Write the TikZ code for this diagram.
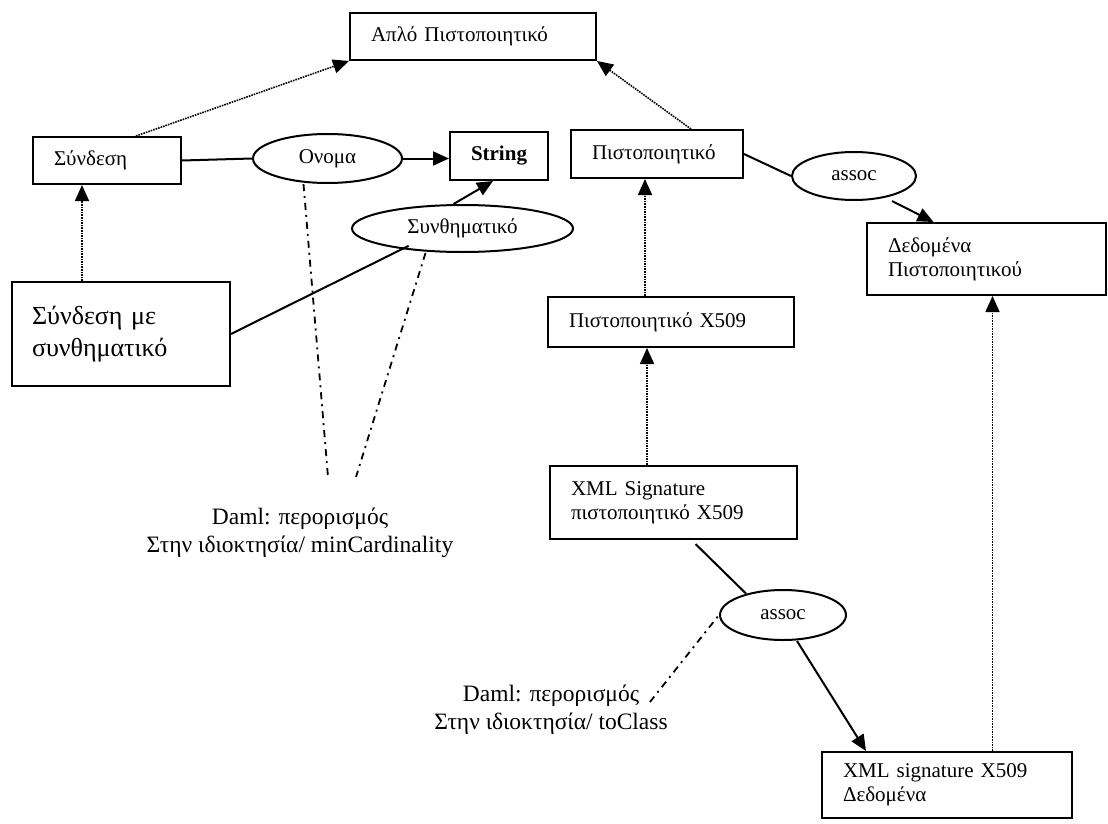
\documentclass[tikz,border=0pt]{standalone}
\usepackage{fontspec}
\setmainfont{Liberation Serif}
\usetikzlibrary{arrows.meta,shapes.geometric}
\begin{document}
\begin{tikzpicture}[x=1pt,y=-1pt,
  lbl/.style={font=\fontsize{21pt}{24pt}\selectfont},
  cls/.style={draw, line width=2pt, rectangle, inner xsep=21pt, inner ysep=0pt, lbl, align=left},
  rel/.style={draw, line width=2pt, ellipse, inner sep=0pt, lbl},
  note/.style={font=\fontsize{23.5pt}{28pt}\selectfont, align=center, inner sep=0pt},
  tip/.style={-{Triangle[length=16pt,width=14pt]}},
  isa/.style={line width=1.6pt, densely dotted, tip},
  link/.style={line width=2pt},
  ref/.style={line width=2pt, tip},
  cons/.style={line width=1.8pt, dash pattern=on 7pt off 5pt on 2pt off 5pt}
]
\path (0,0) rectangle (1108,824);

% classes
\node[cls, minimum height=47pt, text width=204pt] (simple) at (473,36.5) {Απλό Πιστοποιητικό};
\node[cls, minimum height=47pt, text width=106pt] (syn) at (107,160.5) {Σύνδεση};
\node[cls, minimum height=48pt, text width=56pt, align=center, font=\fontsize{21pt}{24pt}\selectfont\bfseries] (string) at (499,156) {String};
\node[cls, minimum height=48pt, text width=130pt] (pist) at (657,154) {Πιστοποιητικό};
\node[cls, minimum height=72pt, text width=197pt] (dedp) at (986.5,259) {Δεδομένα\\Πιστοποιητικού};
\node[cls, minimum height=104pt, inner xsep=20pt, text width=178pt, font=\fontsize{26pt}{32pt}\selectfont] (synpw) at (121,334) {Σύνδεση με\\συνθηματικό};
\node[cls, minimum height=50pt, text width=204pt] (x509) at (671,322) {Πιστοποιητικό X509};
\node[cls, minimum height=73pt, text width=205pt] (xmlsig) at (673.5,502.5) {XML Signature\\πιστοποιητικό X509};
\node[cls, minimum height=66pt, text width=208pt] (xmldata) at (947,785) {XML signature X509\\Δεδομένα};

% properties
\node[rel, minimum width=149pt, minimum height=49pt] (onoma) at (327.5,158.5) {Ονομα};
\node[rel, minimum width=221pt, minimum height=47pt] (synth) at (462.5,228.5) {Συνθηματικό};
\node[rel, minimum width=124pt, minimum height=48pt] (assoc1) at (854,176) {assoc};
\node[rel, minimum width=126pt, minimum height=50pt] (assoc2) at (783,615) {assoc};

% restriction notes
\node[note] (daml1) at (300,533) {Daml: περορισμός\\Στην ιδιοκτησία/ minCardinality};
\node[note] (daml2) at (551,710) {Daml: περορισμός\\Στην ιδιοκτησία/ toClass};

% subclass links
\draw[isa] ([xshift=-46pt]syn.north east) -- (simple.south west);
\draw[isa] ([xshift=-53pt]pist.north east) -- (simple.south east);
\coordinate (synfoot) at ([xshift=50pt]syn.south west);
\draw[isa] (synfoot |- synpw.north) -- (synfoot);
\coordinate (pistfoot) at ([xshift=-12pt]pist.south);
\draw[isa] (pistfoot |- x509.north) -- (pistfoot);
\coordinate (x509foot) at ([xshift=-24pt]x509.south);
\draw[isa] (x509foot |- xmlsig.north) -- (x509foot);
\coordinate (dedpfoot) at ([xshift=6pt]dedp.south);
\draw[isa] (dedpfoot |- xmldata.north) -- (dedpfoot);

% property links
\draw[link] (syn.east) -- (onoma.west);
\draw[ref] (onoma.east) -- (onoma.east -| string.west);
\draw[ref] ([xshift=-9pt]synth.north) -- ([xshift=-6pt]string.south);
\draw[link] (synpw.east) -- ([xshift=25pt]synth.south west);
\draw[link] (pist.east) -- (assoc1.west);
\draw[ref] ([xshift=38pt]assoc1.south) -- ([xshift=-53pt]dedp.north);
\draw[link] ([xshift=22pt,yshift=-4pt]xmlsig.south) -- (assoc2.150);
\draw[ref] ([xshift=14pt]assoc2.south) -- ([xshift=-81pt]xmldata.north);

% restriction links
\draw[cons] ([xshift=-24pt]onoma.south) -- ([xshift=28pt,yshift=31pt]daml1.north);
\draw[cons] ([xshift=-37pt]synth.south) -- ([xshift=56pt,yshift=31pt]daml1.north);
\draw[cons] ([xshift=-18pt,yshift=8pt]daml2.east) -- (assoc2.west);
\end{tikzpicture}
\end{document}
